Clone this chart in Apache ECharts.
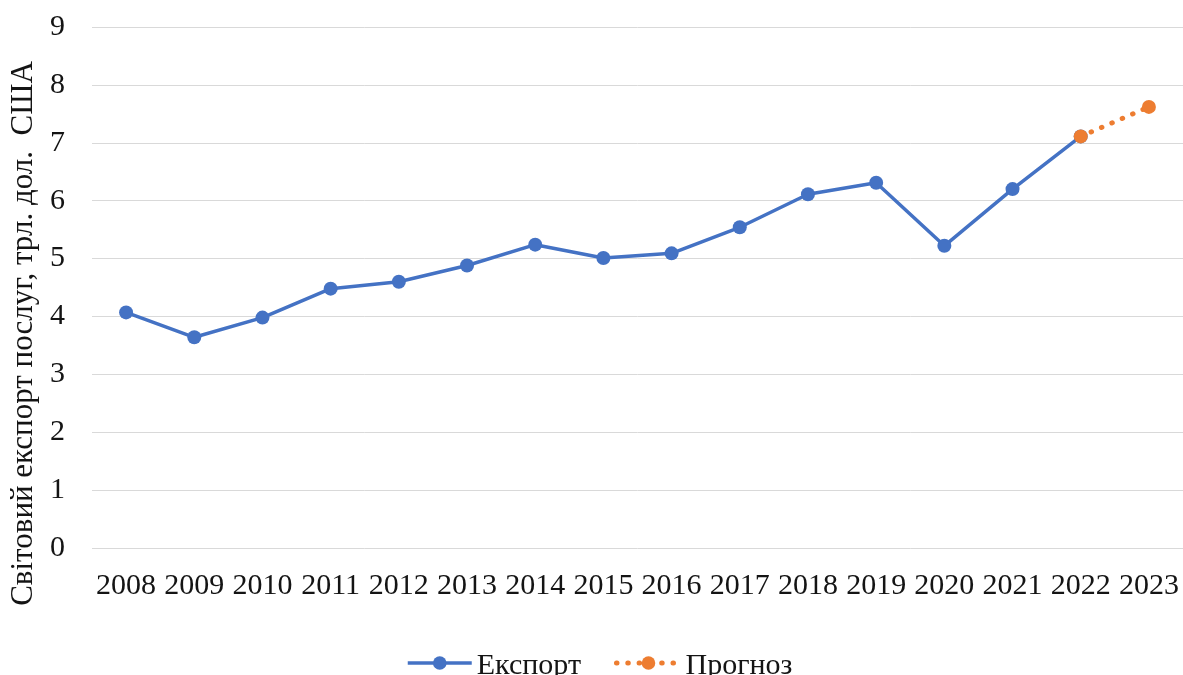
<!DOCTYPE html>
<html>
<head>
<meta charset="utf-8">
<script src="https://cdn.jsdelivr.net/npm/echarts@6/dist/echarts.min.js"></script>
<style>
  html, body { margin: 0; padding: 0; background: #ffffff; }
  #chart { width: 1183px; height: 675px; }
</style>
</head>
<body>
<div id="chart"></div>
<script>
// Years on the category axis
const years = ['2008', '2009', '2010', '2011', '2012', '2013', '2014', '2015',
               '2016', '2017', '2018', '2019', '2020', '2021', '2022', '2023'];
// World services exports, trillion USD
const exportValues = [4.07, 3.64, 3.98, 4.48, 4.60, 4.88, 5.24, 5.01,
                      5.09, 5.54, 6.11, 6.31, 5.22, 6.20, 7.11, null];
// Forecast segment, starting at the last actual year
const forecastValues = [null, null, null, null, null, null, null, null,
                        null, null, null, null, null, null, 7.11, 7.62];

const FONT = '"Liberation Serif", "Times New Roman", serif';
const TEXT = '#141414';
const FS = 30;

const chart = echarts.init(document.getElementById('chart'), null, { renderer: 'canvas' });

chart.setOption({
  animation: false,
  backgroundColor: '#ffffff',
  textStyle: { fontFamily: FONT, color: TEXT },
  grid: { left: 92, top: 27, width: 1094, height: 521, containLabel: false },
  legend: {
    left: 401,
    top: 646,
    itemWidth: 64,
    itemHeight: 17,
    itemGap: 33,
    formatter: '{t|{name}}',
    textStyle: {
      fontFamily: FONT, fontSize: FS, color: TEXT,
      rich: { t: { fontFamily: FONT, fontSize: FS, color: TEXT, padding: [6, 0, 0, 0] } }
    },
    lineStyle: { width: 3.5 },
    data: [
      { name: 'Експорт' },
      { name: 'Прогноз', lineStyle: { width: 5 } }
    ]
  },
  xAxis: {
    type: 'category',
    data: years,
    boundaryGap: true,
    axisLine: { show: false },
    axisTick: { show: false },
    axisLabel: { fontFamily: FONT, fontSize: FS, color: TEXT, margin: 23, interval: 0 }
  },
  yAxis: {
    type: 'value',
    min: 0,
    max: 9,
    interval: 1,
    name: 'Світовий експорт послуг, трл. дол.  США',
    nameLocation: 'middle',
    nameGap: 52,
    nameTextStyle: { fontFamily: FONT, fontSize: 31, color: TEXT, padding: [0, 92, 0, 0] },
    axisLine: { show: false },
    axisTick: { show: false },
    axisLabel: { fontFamily: FONT, fontSize: FS, color: TEXT, margin: 27 },
    splitLine: { lineStyle: { color: '#d9d9d9', width: 1 } }
  },
  series: [
    {
      name: 'Експорт',
      type: 'line',
      data: exportValues,
      symbol: 'circle',
      symbolSize: 14,
      itemStyle: { color: '#4472c4' },
      lineStyle: { color: '#4472c4', width: 3.5 },
      z: 2
    },
    {
      name: 'Прогноз',
      type: 'line',
      data: forecastValues,
      symbol: 'circle',
      symbolSize: 14,
      itemStyle: { color: '#ed7d31' },
      lineStyle: { color: '#ed7d31', width: 5, type: [0.5, 10.8], cap: 'round' },
      z: 3
    }
  ]
});
</script>
</body>
</html>
